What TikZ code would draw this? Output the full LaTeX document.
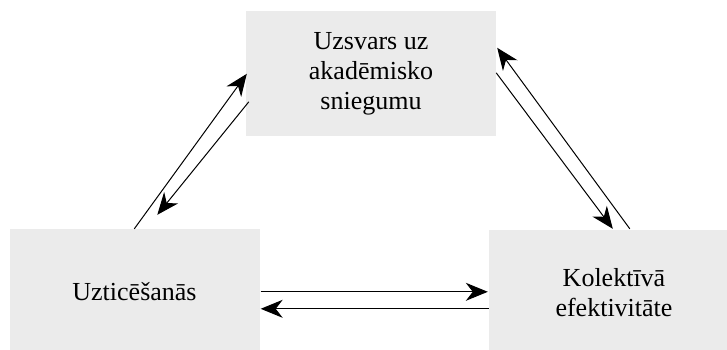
\documentclass[tikz,border=0pt]{standalone}
\usepackage{fontspec}
\setmainfont{Liberation Serif}
\usetikzlibrary{calc,arrows.meta}
\definecolor{boxgray}{RGB}{235,235,235}
\begin{document}
\begin{tikzpicture}[x=1pt,y=1pt,
  box/.style={fill=boxgray, minimum width=250pt, minimum height=125pt,
    inner sep=0pt, align=center, font=\fontsize{26}{30}\selectfont},
  link/.style={line width=1pt, arrows={-Stealth[length=22pt,width=18pt,inset=7pt]}}]
\useasboundingbox (0,0) rectangle (727,-349);

% the three factors
\node[box] (T) at (371,-73.5) {Uzsvars uz\\akadēmisko\\sniegumu};
\node[box] (L) at (134.5,-291.5) {Uzticēšanās};
\node[box] (R) at (614,-292.5) {Kolektīvā\\efektivitāte};

% left pair
\draw[link] ($(L.north west)+(125,0)$) -- ($(T.north west)+(1,-63)$);
\draw[link] ($(T.north west)+(3,-91)$) -- ($(L.north west)+(148,14)$);

% right pair
\draw[link] ($(R.north west)+(141,1)$) -- ($(T.north east)+(1,-37)$);
\draw[link] ($(T.north east)+(0,-62)$) -- ($(R.north west)+(124,1)$);

% bottom pair
\draw[link] ($(L.north east)+(1,-63)$) -- ($(R.north west)+(-1,-62)$);
\draw[link] ($(R.north west)+(0,-79)$) -- ($(L.north east)+(1,-80)$);
\end{tikzpicture}
\end{document}
